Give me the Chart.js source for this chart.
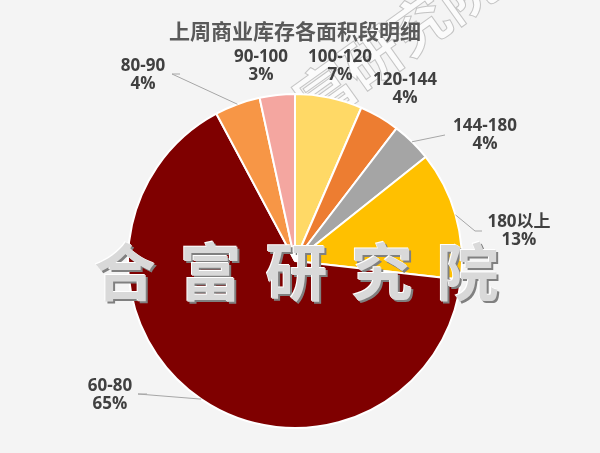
<!DOCTYPE html>
<html>
<head>
<meta charset="utf-8">
<script src="https://cdn.jsdelivr.net/npm/chart.js@4.4.0/dist/chart.umd.min.js"></script>
<style>
	html, body { margin: 0; padding: 0; background: #f4f4f4; }
	#wrap { width: 600px; height: 453px; }
</style>
</head>
<body>
<div id="wrap"><canvas id="chart"></canvas></div>
<script>
const categories = ["100-120", "120-144", "144-180", "180以上", "60-80", "80-90", "90-100"];
const shares = [6.5, 3.9, 3.9, 12.5, 65.4, 4.4, 3.4];
const sliceColors = ["#FFD966", "#ED7D31", "#A5A5A5", "#FFC000", "#7F0000", "#F79646", "#F4A6A0"];

const titleText = "上周商业库存各面积段明细";
const watermark = "合富研究院";

// label block centres and leader line bends (layout only)
const labelSpots = [
	{ x: 340, y: 66, line: null },
	{ x: 405, y: 89, line: null },
	{ x: 485, y: 135, line: [[445, 135]] },
	{ x: 519, y: 231, line: [[482, 231], [475, 231]] },
	{ x: 110, y: 395, line: [[147, 394], [138, 394]] },
	{ x: 143, y: 75, line: [[180, 74], [172, 74]] },
	{ x: 261, y: 66, line: null },
];

const overlay = {
	id: "overlay",
	afterDatasetsDraw(chart) {
		const ctx = chart.ctx;
		const arcs = chart.getDatasetMeta(0).data;
		ctx.save();

		// leader lines
		ctx.strokeStyle = "#a6a6a6";
		ctx.lineWidth = 1;
		arcs.forEach((arc, i) => {
			const spot = labelSpots[i];
			if (!spot.line) return;
			const p = arc.getProps(["x", "y", "startAngle", "endAngle", "outerRadius"], true);
			const mid = (p.startAngle + p.endAngle) / 2;
			const ex = p.x + Math.cos(mid) * p.outerRadius;
			const ey = p.y + Math.sin(mid) * p.outerRadius;
			ctx.beginPath();
			ctx.moveTo(ex, ey);
			for (let k = spot.line.length - 1; k >= 0; k--) {
				ctx.lineTo(spot.line[k][0], spot.line[k][1]);
			}
			ctx.stroke();
		});

		// labels
		ctx.fillStyle = "#404040";
		ctx.font = "bold 17px 'Open Sans', 'Noto Sans CJK SC', sans-serif";
		ctx.textAlign = "center";
		ctx.textBaseline = "middle";
		categories.forEach((name, i) => {
			const spot = labelSpots[i];
			const pct = Math.round(shares[i]) + "%";
			ctx.fillText(name, spot.x, spot.y - 9);
			ctx.fillText(pct, spot.x, spot.y + 9);
		});

		// title
		ctx.fillStyle = "#595959";
		ctx.font = "bold 21px 'Noto Sans CJK SC', sans-serif";
		ctx.fillText(titleText, 295, 31);

		// big embossed watermark
		ctx.font = "bold 62px 'Noto Sans CJK SC', sans-serif";
		const chars = watermark.split("");
		chars.forEach((c, i) => {
			const cx = 125 + i * 85.7;
			const cy = 272;
			ctx.fillStyle = "#808080";
			ctx.fillText(c, cx + 2, cy + 2);
			ctx.fillStyle = "#ffffff";
			ctx.fillText(c, cx - 1, cy - 1);
			ctx.fillStyle = "#d9d9d9";
			ctx.fillText(c, cx, cy);
		});
		ctx.restore();
	},
	beforeDatasetsDraw(chart) {
		// faint rotated outline watermark behind the pie
		const ctx = chart.ctx;
		ctx.save();
		ctx.translate(372, 58);
		ctx.rotate(-0.62);
		ctx.font = "bold 58px 'Noto Sans CJK SC', sans-serif";
		ctx.textAlign = "center";
		ctx.textBaseline = "middle";
		ctx.fillStyle = "#fbfbfb";
		ctx.strokeStyle = "#c4c4c4";
		ctx.lineWidth = 1;
		ctx.fillText(watermark, 0, 0);
		ctx.strokeText(watermark, 0, 0);
		ctx.restore();
	},
};

new Chart(document.getElementById("chart"), {
	type: "pie",
	data: {
		labels: categories,
		datasets: [
			{
				data: shares,
				backgroundColor: sliceColors,
				borderColor: "#ffffff",
				borderWidth: 2,
			},
		],
	},
	options: {
		responsive: true,
		maintainAspectRatio: false,
		animation: false,
		layout: { padding: { top: 93, bottom: 24, left: 127, right: 137 } },
		plugins: {
			legend: { display: false },
			tooltip: { enabled: false },
		},
	},
	plugins: [overlay],
});
</script>
</body>
</html>
